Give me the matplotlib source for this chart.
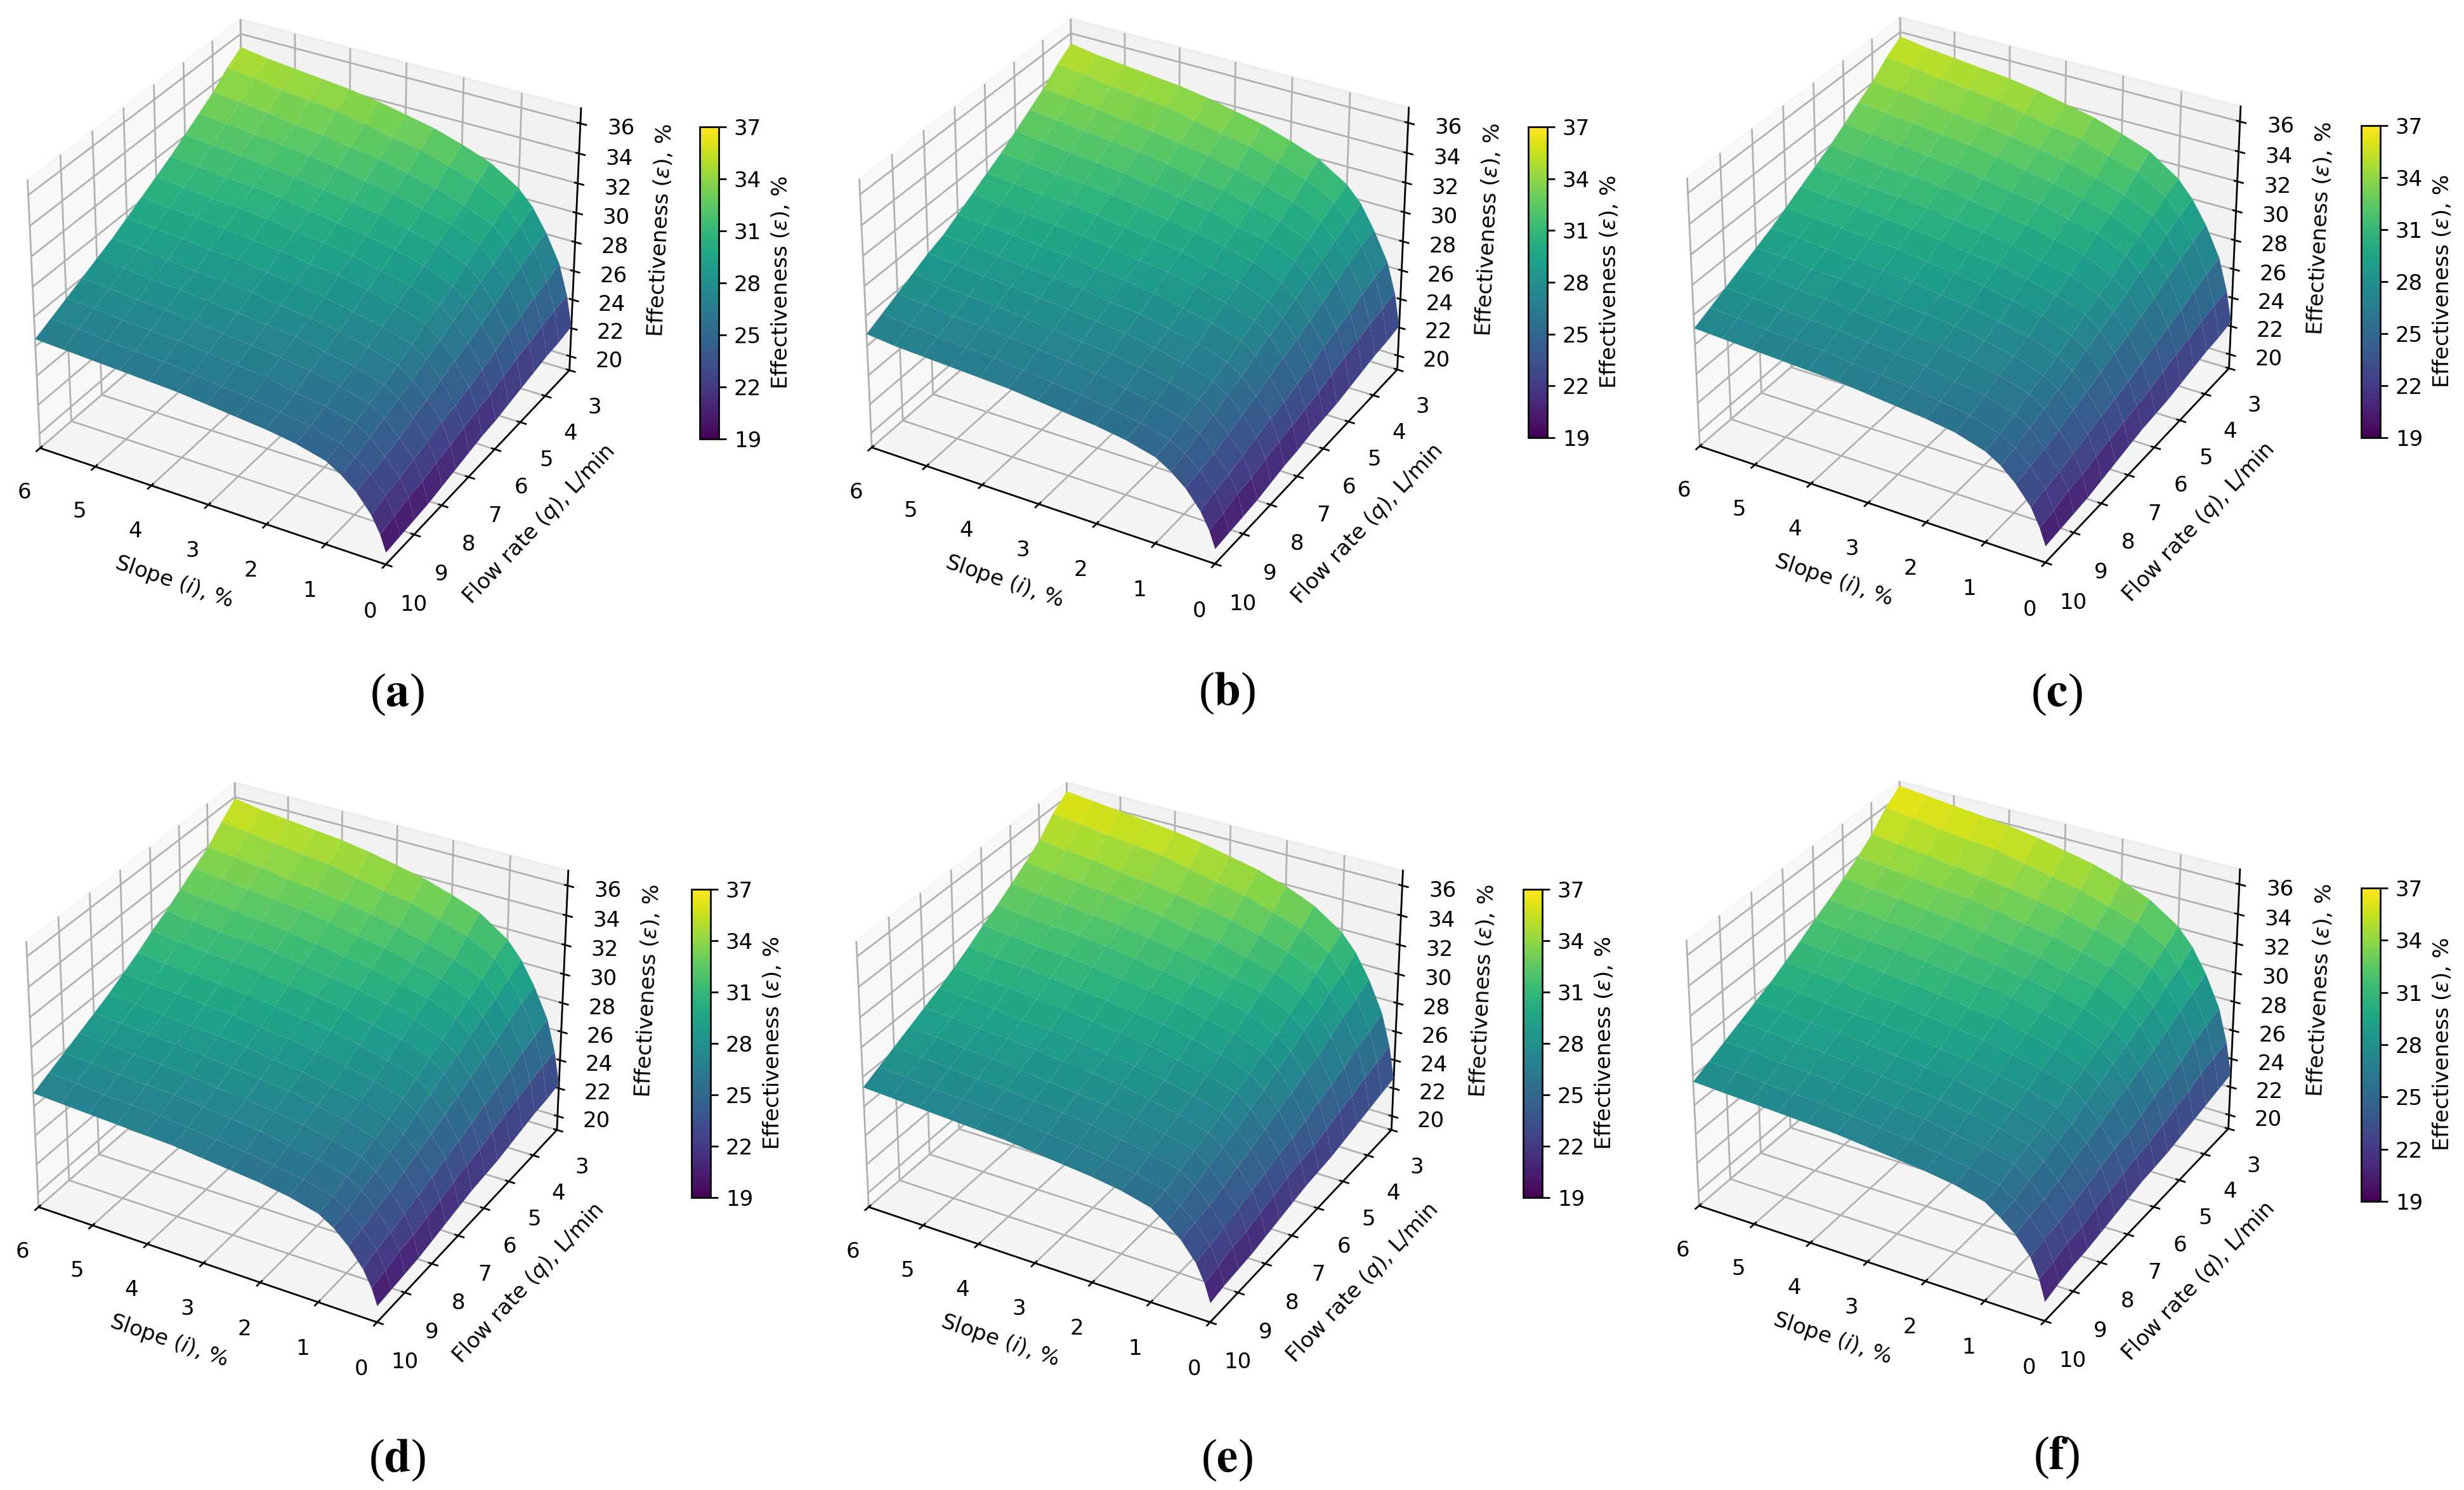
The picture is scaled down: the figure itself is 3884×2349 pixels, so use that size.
import numpy as np
import matplotlib
matplotlib.use("Agg")
import matplotlib.pyplot as plt

W, H = 3884, 2349
DPI = 245

slope = [0, 0.1, 0.25, 0.5, 0.75, 1, 1.5, 2, 2.5, 3, 3.5, 4, 4.5, 5, 5.5, 6]
flow = [3, 3.5, 4, 4.5, 5, 5.5, 6, 6.5, 7, 7.5, 8, 8.5, 9, 9.5, 10]
cbar_ticks = [19, 22, 25, 28, 31, 34, 37]

eff_a = [
    [22.1, 24.2, 26.2, 28.1, 29.6, 30.6, 31.8, 32.5, 33.1, 33.5, 33.9, 34.2, 34.4, 34.6, 34.8, 35.1],
    [21.9, 24.0, 25.9, 27.8, 29.1, 30.2, 31.2, 31.8, 32.4, 32.7, 33.1, 33.5, 33.7, 33.9, 34.2, 34.4],
    [21.8, 23.8, 25.6, 27.4, 28.7, 29.7, 30.5, 31.1, 31.6, 32.0, 32.3, 32.6, 32.8, 33.1, 33.3, 33.5],
    [21.6, 23.5, 25.2, 27.0, 28.2, 29.2, 30.0, 30.5, 31.0, 31.3, 31.7, 32.0, 32.2, 32.4, 32.6, 32.8],
    [21.4, 23.3, 24.9, 26.5, 27.8, 28.7, 29.5, 29.9, 30.4, 30.7, 31.0, 31.3, 31.5, 31.7, 31.9, 32.1],
    [21.2, 23.0, 24.6, 26.1, 27.3, 28.1, 28.9, 29.4, 29.8, 30.1, 30.4, 30.7, 30.9, 31.0, 31.2, 31.4],
    [21.0, 22.7, 24.2, 25.7, 26.9, 27.7, 28.4, 28.8, 29.3, 29.6, 29.8, 30.1, 30.3, 30.4, 30.6, 30.8],
    [20.9, 22.5, 23.9, 25.4, 26.5, 27.3, 27.9, 28.4, 28.8, 29.0, 29.3, 29.5, 29.7, 29.9, 30.0, 30.2],
    [20.7, 22.3, 23.6, 25.0, 26.1, 26.8, 27.4, 27.8, 28.2, 28.5, 28.7, 29.0, 29.1, 29.3, 29.4, 29.6],
    [20.5, 22.0, 23.4, 24.6, 25.6, 26.3, 26.9, 27.3, 27.7, 27.9, 28.2, 28.4, 28.5, 28.7, 28.9, 29.0],
    [20.3, 21.8, 23.1, 24.3, 25.3, 25.9, 26.5, 26.9, 27.3, 27.5, 27.7, 27.9, 28.1, 28.2, 28.4, 28.5],
    [20.1, 21.5, 22.8, 23.9, 24.9, 25.6, 26.1, 26.5, 26.8, 27.0, 27.2, 27.4, 27.6, 27.7, 27.9, 28.0],
    [20.0, 21.4, 22.5, 23.6, 24.6, 25.2, 25.7, 26.0, 26.4, 26.6, 26.8, 27.0, 27.1, 27.2, 27.4, 27.5],
    [19.9, 21.1, 22.3, 23.4, 24.2, 24.8, 25.3, 25.6, 25.9, 26.1, 26.3, 26.5, 26.6, 26.7, 26.9, 27.0],
    [19.8, 20.9, 22.0, 23.2, 24.0, 24.6, 25.1, 25.4, 25.6, 25.8, 26.0, 26.1, 26.2, 26.3, 26.4, 26.5],
]
eff_b = [
    [22.1, 24.3, 26.3, 28.2, 29.8, 30.8, 32.0, 32.7, 33.3, 33.7, 34.1, 34.4, 34.6, 34.8, 35.0, 35.3],
    [21.9, 24.1, 26.1, 28.0, 29.3, 30.4, 31.4, 32.0, 32.6, 32.9, 33.3, 33.7, 33.9, 34.1, 34.4, 34.6],
    [21.8, 23.9, 25.8, 27.6, 28.9, 29.9, 30.7, 31.3, 31.8, 32.2, 32.5, 32.8, 33.0, 33.3, 33.5, 33.7],
    [21.6, 23.6, 25.4, 27.2, 28.4, 29.4, 30.2, 30.7, 31.2, 31.5, 31.9, 32.2, 32.4, 32.6, 32.8, 33.0],
    [21.4, 23.4, 25.1, 26.7, 28.0, 28.9, 29.7, 30.1, 30.6, 30.9, 31.2, 31.5, 31.7, 31.9, 32.1, 32.3],
    [21.2, 23.1, 24.8, 26.3, 27.5, 28.3, 29.1, 29.6, 30.0, 30.3, 30.6, 30.9, 31.1, 31.2, 31.4, 31.6],
    [21.1, 22.8, 24.4, 25.9, 27.1, 27.9, 28.6, 29.0, 29.5, 29.8, 30.0, 30.3, 30.5, 30.6, 30.8, 31.0],
    [21.0, 22.6, 24.1, 25.6, 26.7, 27.5, 28.1, 28.6, 29.0, 29.2, 29.5, 29.7, 29.9, 30.1, 30.2, 30.4],
    [20.8, 22.4, 23.8, 25.2, 26.3, 27.0, 27.6, 28.0, 28.4, 28.7, 28.9, 29.2, 29.3, 29.5, 29.6, 29.8],
    [20.7, 22.2, 23.6, 24.8, 25.8, 26.5, 27.1, 27.5, 27.9, 28.1, 28.4, 28.6, 28.7, 28.9, 29.1, 29.2],
    [20.5, 22.0, 23.3, 24.5, 25.5, 26.1, 26.7, 27.1, 27.5, 27.7, 27.9, 28.1, 28.3, 28.4, 28.6, 28.8],
    [20.3, 21.7, 23.0, 24.1, 25.1, 25.8, 26.3, 26.7, 27.0, 27.2, 27.4, 27.6, 27.8, 27.9, 28.1, 28.3],
    [20.2, 21.6, 22.7, 23.8, 24.8, 25.4, 25.9, 26.2, 26.6, 26.8, 27.0, 27.2, 27.3, 27.4, 27.6, 27.8],
    [20.1, 21.3, 22.5, 23.6, 24.4, 25.0, 25.5, 25.8, 26.1, 26.3, 26.5, 26.7, 26.8, 26.9, 27.1, 27.3],
    [20.0, 21.1, 22.2, 23.4, 24.2, 24.8, 25.3, 25.6, 25.8, 26.0, 26.2, 26.3, 26.4, 26.5, 26.6, 26.8],
]
eff_c = [
    [22.3, 24.4, 26.5, 28.5, 30.0, 31.1, 32.4, 33.1, 33.7, 34.1, 34.5, 34.8, 35.0, 35.2, 35.4, 35.7],
    [22.1, 24.2, 26.2, 28.2, 29.6, 30.7, 31.8, 32.4, 33.0, 33.3, 33.7, 34.1, 34.3, 34.5, 34.8, 35.0],
    [22.0, 24.0, 25.9, 27.8, 29.2, 30.2, 31.1, 31.7, 32.2, 32.6, 32.9, 33.2, 33.4, 33.7, 33.9, 34.1],
    [21.8, 23.7, 25.5, 27.4, 28.7, 29.7, 30.6, 31.1, 31.6, 31.9, 32.3, 32.6, 32.8, 33.0, 33.2, 33.4],
    [21.6, 23.5, 25.2, 26.9, 28.3, 29.2, 30.1, 30.5, 31.0, 31.3, 31.6, 31.9, 32.1, 32.3, 32.5, 32.7],
    [21.4, 23.2, 24.9, 26.5, 27.8, 28.6, 29.5, 30.0, 30.4, 30.7, 31.0, 31.3, 31.5, 31.6, 31.8, 32.0],
    [21.3, 22.9, 24.5, 26.1, 27.4, 28.2, 29.0, 29.4, 29.9, 30.2, 30.4, 30.7, 30.9, 31.0, 31.2, 31.4],
    [21.2, 22.7, 24.2, 25.8, 27.0, 27.8, 28.5, 29.0, 29.4, 29.6, 29.9, 30.1, 30.3, 30.5, 30.6, 30.8],
    [21.0, 22.5, 23.9, 25.4, 26.6, 27.3, 28.0, 28.4, 28.8, 29.1, 29.3, 29.6, 29.7, 29.9, 30.0, 30.2],
    [20.8, 22.3, 23.7, 25.0, 26.1, 26.8, 27.5, 27.9, 28.3, 28.5, 28.8, 29.0, 29.1, 29.3, 29.5, 29.6],
    [20.6, 22.1, 23.4, 24.7, 25.8, 26.4, 27.1, 27.5, 27.9, 28.1, 28.3, 28.5, 28.7, 28.8, 29.0, 29.1],
    [20.4, 21.8, 23.1, 24.3, 25.4, 26.1, 26.7, 27.1, 27.4, 27.6, 27.8, 28.0, 28.2, 28.3, 28.5, 28.6],
    [20.3, 21.7, 22.8, 24.0, 25.1, 25.7, 26.3, 26.6, 27.0, 27.2, 27.4, 27.6, 27.7, 27.8, 28.0, 28.1],
    [20.2, 21.4, 22.6, 23.8, 24.7, 25.3, 25.9, 26.2, 26.5, 26.7, 26.9, 27.1, 27.2, 27.3, 27.5, 27.6],
    [20.1, 21.2, 22.4, 23.6, 24.5, 25.1, 25.7, 26.0, 26.2, 26.4, 26.6, 26.7, 26.8, 26.9, 27.0, 27.1],
]
eff_d = [
    [22.3, 24.5, 26.6, 28.6, 30.2, 31.3, 32.6, 33.3, 33.9, 34.3, 34.7, 35.0, 35.2, 35.4, 35.6, 35.9],
    [22.1, 24.3, 26.3, 28.3, 29.7, 30.8, 31.8, 32.4, 33.0, 33.3, 33.7, 34.1, 34.3, 34.5, 34.8, 35.0],
    [22.0, 24.1, 26.0, 27.9, 29.2, 30.2, 31.0, 31.6, 32.1, 32.5, 32.8, 33.1, 33.3, 33.6, 33.8, 34.0],
    [21.8, 23.8, 25.6, 27.4, 28.7, 29.7, 30.5, 31.0, 31.5, 31.8, 32.2, 32.5, 32.7, 32.9, 33.1, 33.3],
    [21.6, 23.6, 25.3, 27.0, 28.3, 29.2, 30.0, 30.4, 30.9, 31.2, 31.5, 31.8, 32.0, 32.2, 32.4, 32.6],
    [21.4, 23.3, 25.0, 26.6, 27.8, 28.6, 29.4, 29.9, 30.3, 30.6, 30.9, 31.2, 31.4, 31.5, 31.7, 31.9],
    [21.3, 23.0, 24.6, 26.2, 27.4, 28.2, 28.9, 29.3, 29.8, 30.1, 30.3, 30.6, 30.8, 30.9, 31.1, 31.3],
    [21.2, 22.8, 24.3, 25.8, 26.9, 27.7, 28.3, 28.8, 29.2, 29.4, 29.7, 29.9, 30.1, 30.3, 30.4, 30.6],
    [21.0, 22.6, 24.0, 25.4, 26.5, 27.2, 27.8, 28.2, 28.6, 28.9, 29.1, 29.4, 29.5, 29.7, 29.8, 30.0],
    [20.8, 22.3, 23.7, 25.0, 26.0, 26.7, 27.3, 27.7, 28.1, 28.3, 28.6, 28.8, 28.9, 29.1, 29.3, 29.4],
    [20.6, 22.1, 23.4, 24.7, 25.7, 26.3, 26.9, 27.3, 27.7, 27.9, 28.1, 28.3, 28.5, 28.6, 28.8, 28.9],
    [20.4, 21.8, 23.1, 24.3, 25.3, 26.0, 26.5, 26.9, 27.2, 27.4, 27.6, 27.8, 28.0, 28.1, 28.3, 28.4],
    [20.3, 21.7, 22.8, 24.0, 25.0, 25.6, 26.1, 26.4, 26.8, 27.0, 27.2, 27.4, 27.5, 27.6, 27.8, 27.9],
    [20.2, 21.4, 22.6, 23.7, 24.6, 25.2, 25.7, 26.0, 26.3, 26.5, 26.7, 26.9, 27.0, 27.1, 27.3, 27.4],
    [20.1, 21.2, 22.3, 23.5, 24.4, 25.0, 25.5, 25.8, 26.0, 26.2, 26.4, 26.5, 26.6, 26.7, 26.8, 26.9],
]
eff_e = [
    [22.7, 24.9, 27.0, 29.1, 30.7, 31.8, 33.1, 33.9, 34.5, 34.9, 35.3, 35.6, 35.8, 36.0, 36.2, 36.4],
    [22.5, 24.6, 26.6, 28.6, 30.0, 31.2, 32.3, 32.9, 33.5, 33.9, 34.3, 34.7, 34.9, 35.1, 35.4, 35.6],
    [22.3, 24.4, 26.3, 28.2, 29.6, 30.6, 31.5, 32.1, 32.6, 33.0, 33.3, 33.6, 33.8, 34.1, 34.3, 34.5],
    [22.1, 24.0, 25.8, 27.7, 29.0, 30.0, 30.9, 31.4, 31.9, 32.2, 32.6, 32.9, 33.1, 33.3, 33.5, 33.7],
    [21.9, 23.8, 25.5, 27.2, 28.6, 29.5, 30.4, 30.8, 31.3, 31.6, 31.9, 32.2, 32.4, 32.6, 32.8, 33.0],
    [21.7, 23.5, 25.2, 26.8, 28.1, 28.9, 29.8, 30.3, 30.7, 31.0, 31.3, 31.6, 31.8, 31.9, 32.1, 32.3],
    [21.6, 23.2, 24.8, 26.4, 27.7, 28.5, 29.3, 29.7, 30.2, 30.5, 30.7, 31.0, 31.2, 31.3, 31.5, 31.7],
    [21.5, 23.1, 24.5, 26.1, 27.2, 28.0, 28.7, 29.2, 29.6, 29.8, 30.1, 30.3, 30.5, 30.7, 30.8, 31.0],
    [21.3, 22.9, 24.3, 25.7, 26.8, 27.6, 28.2, 28.6, 29.0, 29.3, 29.5, 29.8, 29.9, 30.1, 30.2, 30.4],
    [21.1, 22.6, 24.0, 25.3, 26.3, 27.1, 27.7, 28.1, 28.5, 28.7, 29.0, 29.2, 29.3, 29.5, 29.7, 29.8],
    [20.9, 22.4, 23.7, 25.0, 26.0, 26.7, 27.3, 27.7, 28.1, 28.3, 28.5, 28.7, 28.9, 29.0, 29.2, 29.3],
    [20.7, 22.1, 23.4, 24.6, 25.6, 26.4, 26.9, 27.3, 27.6, 27.8, 28.0, 28.2, 28.4, 28.5, 28.7, 28.8],
    [20.6, 22.0, 23.1, 24.3, 25.3, 26.0, 26.5, 26.8, 27.2, 27.4, 27.6, 27.8, 27.9, 28.0, 28.2, 28.3],
    [20.5, 21.7, 22.9, 24.1, 24.9, 25.6, 26.1, 26.4, 26.7, 26.9, 27.1, 27.3, 27.4, 27.5, 27.7, 27.8],
    [20.3, 21.5, 22.7, 23.9, 24.7, 25.4, 25.9, 26.2, 26.4, 26.6, 26.8, 26.9, 27.0, 27.1, 27.2, 27.3],
]
eff_f = [
    [22.9, 25.1, 27.3, 29.4, 31.0, 32.1, 33.4, 34.2, 34.8, 35.2, 35.6, 35.9, 36.1, 36.3, 36.5, 36.7],
    [22.7, 24.8, 26.9, 28.9, 30.3, 31.5, 32.6, 33.2, 33.8, 34.2, 34.6, 35.0, 35.2, 35.4, 35.7, 35.9],
    [22.5, 24.6, 26.6, 28.5, 29.9, 30.9, 31.8, 32.4, 32.9, 33.3, 33.6, 33.9, 34.1, 34.4, 34.6, 34.8],
    [22.3, 24.2, 26.1, 28.0, 29.3, 30.3, 31.2, 31.7, 32.2, 32.5, 32.9, 33.2, 33.4, 33.6, 33.8, 34.0],
    [22.1, 24.0, 25.8, 27.5, 28.9, 29.8, 30.7, 31.1, 31.6, 31.9, 32.2, 32.5, 32.7, 32.9, 33.1, 33.3],
    [21.9, 23.7, 25.5, 27.1, 28.4, 29.2, 30.1, 30.6, 31.0, 31.3, 31.6, 31.9, 32.1, 32.2, 32.4, 32.6],
    [21.8, 23.4, 25.1, 26.7, 28.0, 28.8, 29.6, 30.0, 30.5, 30.8, 31.0, 31.3, 31.5, 31.6, 31.8, 32.0],
    [21.7, 23.3, 24.8, 26.4, 27.5, 28.3, 29.0, 29.5, 29.9, 30.1, 30.4, 30.6, 30.8, 31.0, 31.1, 31.3],
    [21.5, 23.1, 24.6, 26.0, 27.1, 27.9, 28.5, 28.9, 29.3, 29.6, 29.8, 30.1, 30.2, 30.4, 30.5, 30.7],
    [21.3, 22.8, 24.3, 25.6, 26.6, 27.4, 28.0, 28.4, 28.8, 29.0, 29.3, 29.5, 29.6, 29.8, 30.0, 30.1],
    [21.1, 22.6, 24.0, 25.3, 26.3, 27.0, 27.6, 28.0, 28.4, 28.6, 28.8, 29.0, 29.2, 29.3, 29.5, 29.6],
    [20.9, 22.3, 23.7, 24.9, 25.9, 26.7, 27.2, 27.6, 27.9, 28.1, 28.3, 28.5, 28.7, 28.8, 29.0, 29.1],
    [20.8, 22.2, 23.4, 24.6, 25.6, 26.3, 26.8, 27.1, 27.5, 27.7, 27.9, 28.1, 28.2, 28.3, 28.5, 28.6],
    [20.6, 21.9, 23.2, 24.4, 25.2, 25.9, 26.4, 26.7, 27.0, 27.2, 27.4, 27.6, 27.7, 27.8, 28.0, 28.1],
    [20.3, 21.7, 23.0, 24.2, 25.0, 25.7, 26.2, 26.5, 26.7, 26.9, 27.1, 27.2, 27.3, 27.4, 27.5, 27.6],
]

fig = plt.figure(figsize=(W / DPI, H / DPI), dpi=DPI)


def draw_panel(eff, cx, cy, w, h, cb_x, cb_top, cb_h, letter, lx, ly):
    ax = fig.add_axes([(cx - w / 2) / W, 1 - (cy + h / 2) / H, w / W, h / H], projection="3d")
    # the source panels are slightly squeezed, so keep the box as placed
    ax.apply_aspect = lambda position=None: None
    X, Y = np.meshgrid(slope, flow)
    surf = ax.plot_surface(X, Y, np.array(eff), cmap="viridis", vmin=19, vmax=37, rstride=1, cstride=1)
    ax.view_init(elev=30, azim=120)
    ax.set_xlim(0, 6)
    ax.set_ylim(3, 10)
    ax.set_zlim(19, 37)
    ax.set_yticks(range(3, 11))
    ax.set_zticks(range(20, 37, 2))
    ax.set_xlabel(r"Slope ($i$), %")
    ax.set_ylabel(r"Flow rate ($q$), L/min")
    ax.set_zlabel(r"Effectiveness ($\varepsilon$), %")
    cax = fig.add_axes([cb_x / W, 1 - (cb_top + cb_h) / H, 30 / W, cb_h / H])
    cb = fig.colorbar(surf, cax=cax, ticks=cbar_ticks)
    cb.set_label(r"Effectiveness ($\varepsilon$), %")
    fig.text(lx / W, 1 - ly / H, f"($\\mathbf{{{letter}}}$)", family="Liberation Serif",
             math_fontfamily="stix", fontsize=22, ha="center", va="center")


draw_panel(eff_a, 475, 453, 970, 1000, 1103, 200, 492, "a", 626, 1095)
draw_panel(eff_b, 1783, 452, 963, 1000, 2409, 200, 490, "b", 1934, 1093)
draw_panel(eff_c, 3091, 450, 970, 1000, 3722, 198, 492, "c", 3242, 1095)
draw_panel(eff_d, 464, 1652, 950, 990, 1090, 1402, 486, "d", 626, 2302)
draw_panel(eff_e, 1776, 1652, 958, 990, 2401, 1402, 486, "e", 1934, 2302)
draw_panel(eff_f, 3090, 1650, 970, 990, 3722, 1400, 494, "f", 3242, 2298)

fig.savefig("out.png", dpi=DPI)
